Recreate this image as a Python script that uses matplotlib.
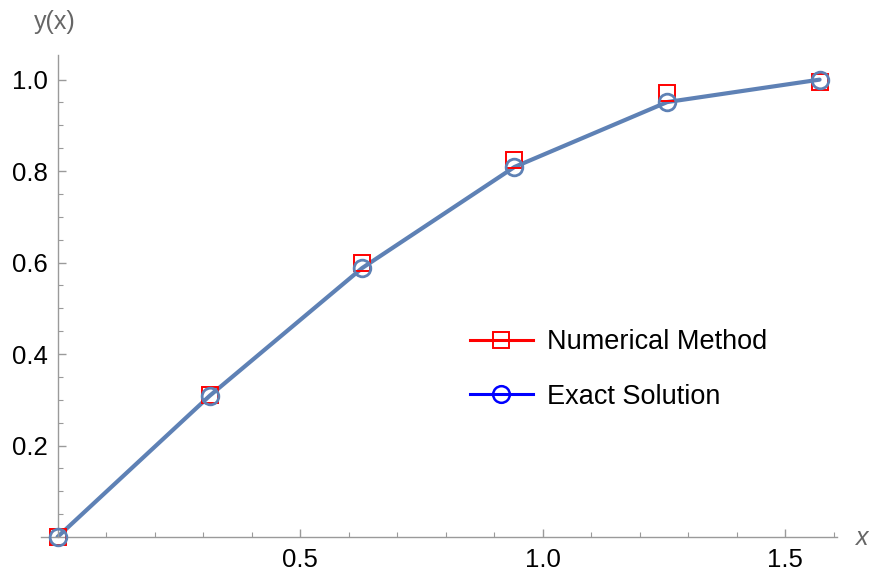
import matplotlib
matplotlib.use("Agg")
import matplotlib.pyplot as plt
from matplotlib.lines import Line2D
from matplotlib.ticker import FixedLocator

plt.rcParams['font.family'] = ['Liberation Sans', 'DejaVu Sans']

# values
x_pts = [0.0, 0.314, 0.628, 0.942, 1.257, 1.571]
numerical = [0.0, 0.310, 0.599, 0.824, 0.970, 0.995]
exact = [0.0, 0.309, 0.588, 0.809, 0.951, 1.000]

x_major = [0.5, 1.0, 1.5]
x_minor = [0.1, 0.2, 0.3, 0.4, 0.6, 0.7, 0.8, 0.9, 1.1, 1.2, 1.3, 1.4, 1.6]
y_major = [0.2, 0.4, 0.6, 0.8, 1.0]
y_minor = [0.05, 0.1, 0.15, 0.25, 0.3, 0.35, 0.45, 0.5, 0.55, 0.65, 0.7, 0.75,
           0.85, 0.9, 0.95]

line_col = '#5E81B5'
axis_col = '#9a9a9a'

fig = plt.figure(figsize=(8.7, 5.74), dpi=100)
ax = fig.add_axes([0.0466, 0.0645, 0.9155, 0.839])

ax.plot(x_pts, exact, color=line_col, lw=3.0, zorder=2, solid_capstyle='round')
ax.plot(x_pts, numerical, ls='none', marker='s', ms=11.5, mfc='none', mec='red',
        mew=1.4, zorder=3, clip_on=False)
ax.plot(x_pts, exact, ls='none', marker='o', ms=12, mfc='none', mec=line_col,
        mew=2.0, zorder=4, clip_on=False)

ax.set_xlim(-0.035, 1.607)
ax.set_ylim(0, 1.053)

for s in ['top', 'right']:
    ax.spines[s].set_visible(False)
ax.spines['left'].set_position(('data', 0))
ax.spines['bottom'].set_position(('data', 0))
for s in ['left', 'bottom']:
    ax.spines[s].set_color(axis_col)
    ax.spines[s].set_linewidth(1.0)

ax.xaxis.set_major_locator(FixedLocator(x_major))
ax.xaxis.set_minor_locator(FixedLocator(x_minor))
ax.yaxis.set_major_locator(FixedLocator(y_major))
ax.yaxis.set_minor_locator(FixedLocator(y_minor))
ax.set_xticklabels(['0.5', '1.0', '1.5'])
ax.set_yticklabels(['0.2', '0.4', '0.6', '0.8', '1.0'])
ax.tick_params(which='both', direction='in', color=axis_col, labelsize=18.5,
               labelcolor='black')
ax.tick_params(which='major', length=6, width=1.0)
ax.tick_params(which='minor', length=3.5, width=0.8)
ax.tick_params(axis='x', pad=8)
ax.tick_params(axis='y', pad=7)

fig.text(55 / 870, 1 - 22 / 574, 'y(x)', ha='center', va='center',
         fontsize=18, color='#666666')
fig.text(862 / 870, 1 - 538 / 574, 'x', ha='center', va='center',
         fontsize=18, color='#666666', style='italic')

handles = [
    Line2D([], [], color='red', lw=2.2, marker='s', ms=12, mfc='none', mec='red', mew=1.4),
    Line2D([], [], color='blue', lw=2.2, marker='o', ms=12, mfc='none', mec='blue', mew=1.8),
]
ax.legend(handles, ['Numerical Method', 'Exact Solution'], frameon=False,
          fontsize=19.5, loc='center left', bbox_to_anchor=(0.508, 0.348),
          handlelength=2.33, handletextpad=0.52, labelspacing=1.05)

fig.savefig('out.png', dpi=100)
